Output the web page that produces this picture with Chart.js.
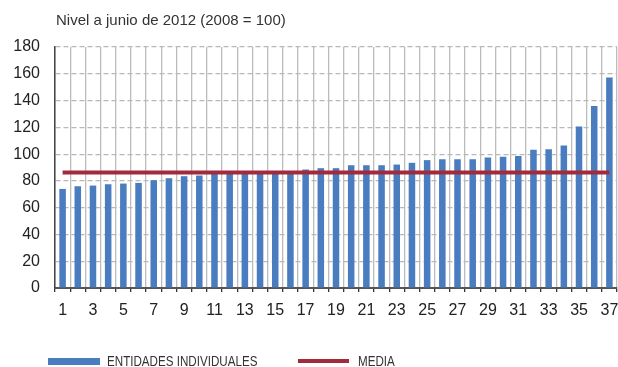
<!DOCTYPE html>
<html>
<head>
<meta charset="utf-8">
<script src="https://cdn.jsdelivr.net/npm/chart.js@4/dist/chart.umd.min.js"></script>
<style>
  html, body { margin: 0; padding: 0; background: #fff; }
  #wrap { position: relative; width: 618px; height: 367px; overflow: hidden; }
  #chart { position: absolute; left: 0; top: 0; }
  .title { position: absolute; left: 56px; top: 11px; font: 15px "Liberation Sans", Arial, sans-serif; color: #333; white-space: nowrap; }
  .leg { position: absolute; font: 14px "Liberation Sans", Arial, sans-serif; color: #333; white-space: nowrap; top: 353px; transform: scaleX(0.83); transform-origin: 0 50%; }
  .sw { position: absolute; }
</style>
</head>
<body>
<div id="wrap">
  <canvas id="chart" width="618" height="367"></canvas>
  <div class="title">Nivel a junio de 2012 (2008 = 100)</div>
  <div class="sw" style="left:48px;top:358px;width:52px;height:7px;background:#4A7DBF"></div>
  <div class="leg" style="left:107px">ENTIDADES INDIVIDUALES</div>
  <div class="sw" style="left:298px;top:359px;width:51px;height:4px;background:#A12A3D"></div>
  <div class="leg" style="left:358px">MEDIA</div>
</div>
<script>
// Entity index: 1..37, sorted by level
const categories = Array.from({ length: 37 }, (_, i) => String(i + 1));

// Level in June 2012 for each individual entity (2008 = 100)
const entidades = [
  74, 76, 76.5, 77.5, 78, 78.5, 80.5, 82, 83.5, 84,
  85.5, 86, 86, 86.5, 86.5, 87, 88.5, 89.5, 89.5, 91.7,
  91.7, 91.7, 92.2, 93.5, 95.5, 96.2, 96.2, 96.2, 97.5, 98,
  98.5, 103.2, 103.7, 106.5, 120.7, 136, 157.2
];

// Average level
const mediaValue = 86.2;
const media = categories.map(() => mediaValue);

// Y axis ticks
const yTicks = [0, 20, 40, 60, 80, 100, 120, 140, 160, 180];

const FONT = "'Liberation Sans', Arial, sans-serif";

new Chart(document.getElementById('chart'), {
  type: 'bar',
  data: {
    labels: categories,
    datasets: [
      {
        type: 'line',
        label: 'MEDIA',
        data: media,
        borderColor: '#A12A3D',
        borderWidth: 4,
        pointRadius: 0,
        order: 0
      },
      {
        type: 'bar',
        label: 'ENTIDADES INDIVIDUALES',
        data: entidades,
        backgroundColor: '#4A7DBF',
        barPercentage: 0.43,
        categoryPercentage: 1,
        order: 1
      }
    ]
  },
  options: {
    responsive: false,
    animation: false,
    layout: { padding: { top: 47, right: 1, left: 0, bottom: 0 } },
    plugins: { legend: { display: false }, tooltip: { enabled: false }, title: { display: false } },
    scales: {
      x: {
        offset: true,
        grid: {
          offset: true,
          color: '#bcbcbc',
          lineWidth: 1.3,
          tickColor: '#333',
          tickLength: 4,
          drawTicks: true
        },
        border: { color: '#555', width: 2 },
        ticks: {
          autoSkip: false,
          maxRotation: 0,
          padding: 9,
          color: '#222',
          font: { family: FONT, size: 16 },
          callback: (v, i) => (i % 2 === 0 ? categories[i] : '')
        },
        afterFit: (scale) => {
          scale.height = 79;
          scale.paddingLeft = 0;
          scale.paddingRight = 0;
        }
      },
      y: {
        min: 0,
        max: 180,
        afterBuildTicks: (scale) => { scale.ticks = yTicks.map(v => ({ value: v })); },
        grid: { color: '#b8b8b8', lineWidth: 1.2, drawTicks: false },
        border: { color: '#444', width: 1.5, dash: [5, 3] },
        ticks: {
          padding: 15,
          color: '#222',
          font: { family: FONT, size: 16 }
        },
        afterFit: (scale) => { scale.width = 55; }
      }
    }
  }
});
</script>
</body>
</html>
